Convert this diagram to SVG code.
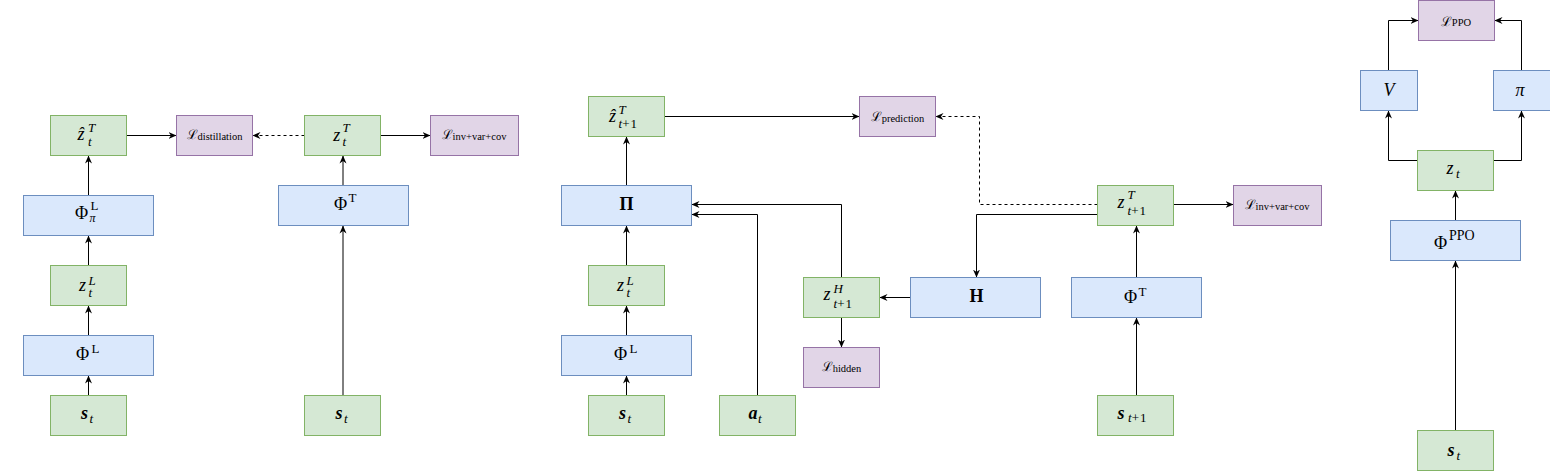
<svg xmlns="http://www.w3.org/2000/svg" width="1550" height="471" viewBox="0 0 1550 471">
<style>
.g{fill:#d5e8d4;stroke:#82b366;stroke-width:1}
.b{fill:#dae8fc;stroke:#6c8ebf;stroke-width:1}
.p{fill:#e1d5e7;stroke:#9673a6;stroke-width:1}
.c path{fill:none;stroke:#000;stroke-width:1;marker-end:url(#a)}
.c path.d{stroke-dasharray:3 3}
text{font-family:"Liberation Serif","DejaVu Serif",serif;fill:#000;font-size:18px}
.i{font-style:italic}
.bi{font-style:italic;font-weight:bold}
.bf{font-weight:bold}
.s{font-size:13px}
.ls{font-family:"DejaVu Serif",serif;font-size:13px}
.sub{font-size:10.5px}
</style>
<defs>
<marker id="a" viewBox="0 0 8 8" refX="8" refY="4" markerWidth="8" markerHeight="8" markerUnits="userSpaceOnUse" orient="auto"><path d="M0,0.5 L8,4 L0,7.5 L2.5,4 z" fill="#000"/></marker>
</defs>
<g class="c" id="connectors">
<path d="M88.5,395.5 V375.5"/>
<path d="M88.5,335.5 V305.5"/>
<path d="M88.5,265.5 V235.5"/>
<path d="M88.5,195.5 V155.5"/>
<path d="M126.5,135.5 H176.5"/>
<path class="d" d="M304.5,135.5 H252.5"/>
<path d="M380.5,135.5 H430.5"/>
<path d="M343,185.5 V155.5"/>
<path d="M343,395.5 V225.5"/>
<path d="M626.5,395.5 V375.5"/>
<path d="M626.5,335.5 V305.5"/>
<path d="M626.5,265.5 V225.5"/>
<path d="M626.5,185.5 V136.5"/>
<path d="M664.5,116.5 H859.5"/>
<path d="M757.5,395.5 V214.5 H691.5"/>
<path d="M841.5,277.5 V204.5 H691.5"/>
<path d="M841.5,317.5 V347.5"/>
<path d="M910.5,297.5 H879.5"/>
<path class="d" d="M1097.5,204.5 H979.5 V116.5 H935.5"/>
<path d="M1097.5,214.5 H976.5 V277.5"/>
<path d="M1136.5,277.5 V225.5"/>
<path d="M1136.5,395.5 V317.5"/>
<path d="M1173.5,204.5 H1233.5"/>
<path d="M1455.5,430.5 V260.5"/>
<path d="M1455.5,220.5 V190.5"/>
<path d="M1417.5,160.5 H1388.5 V110.5"/>
<path d="M1493.5,160.5 H1521.5 V110.5"/>
<path d="M1388.5,70.5 V20.5 H1418.5"/>
<path d="M1521.5,70.5 V20.5 H1494.5"/>
</g>
<g id="n_zhat_t_T"><rect class="g" x="50.5" y="115.5" width="76" height="40"/><text><tspan class="i" x="77.5" y="140">ẑ</tspan><tspan class="i s" x="88" y="132">T</tspan><tspan class="i s" x="88" y="146">t</tspan></text></g>
<g id="n_L_dist"><rect class="p" x="176.5" y="115.5" width="76" height="40"/><text x="214.5" y="139" text-anchor="middle"><tspan class="ls">ℒ</tspan><tspan class="sub" dy="1">distillation</tspan></text></g>
<g id="n_Phi_pi_L"><rect class="b" x="23.5" y="195.5" width="130" height="40"/><text><tspan x="75" y="219">Φ</tspan><tspan class="s" x="90.5" y="209.5">L</tspan><tspan class="i" font-size="12" x="89.5" y="221.5">π</tspan></text></g>
<g id="n_z_t_L"><rect class="g" x="50.5" y="265.5" width="76" height="40"/><text><tspan class="i" x="79" y="291">z</tspan><tspan class="i s" x="88.5" y="284.5">L</tspan><tspan class="i s" x="88.5" y="297">t</tspan></text></g>
<g id="n_Phi_L"><rect class="b" x="23.5" y="335.5" width="130" height="40"/><text><tspan x="76" y="360">Φ</tspan><tspan class="s" x="91.5" y="353">L</tspan></text></g>
<g id="n_s_t_1"><rect class="g" x="50.5" y="395.5" width="76" height="40"/><text><tspan class="bi" x="81" y="419">s</tspan><tspan class="i s" x="89.5" y="423">t</tspan></text></g>
<g id="n_z_t_T"><rect class="g" x="304.5" y="115.5" width="76" height="40"/><text><tspan class="i" x="333.3" y="140.5">z</tspan><tspan class="i s" x="342.5" y="132">T</tspan><tspan class="i s" x="342.5" y="146">t</tspan></text></g>
<g id="n_L_inv_1"><rect class="p" x="430.5" y="115.5" width="88" height="40"/><text x="474" y="139" text-anchor="middle"><tspan class="ls">ℒ</tspan><tspan class="sub" dy="1">inv+var+cov</tspan></text></g>
<g id="n_Phi_T_1"><rect class="b" x="278.5" y="185.5" width="130" height="40"/><text><tspan x="334" y="209.5">Φ</tspan><tspan class="s" x="348.5" y="202">T</tspan></text></g>
<g id="n_s_t_2"><rect class="g" x="304.5" y="395.5" width="76" height="40"/><text><tspan class="bi" x="335.5" y="419">s</tspan><tspan class="i s" x="344" y="423">t</tspan></text></g>
<g id="n_zhat_t1_T"><rect class="g" x="588.5" y="96.5" width="76" height="40"/><text><tspan class="i" x="609" y="121.5">ẑ</tspan><tspan class="i s" x="618.5" y="113.5">T</tspan><tspan class="i s" x="618.5" y="128">t</tspan><tspan class="s" letter-spacing="1">+1</tspan></text></g>
<g id="n_L_pred"><rect class="p" x="859.5" y="96.5" width="76" height="40"/><text x="897.5" y="121" text-anchor="middle"><tspan class="ls">ℒ</tspan><tspan class="sub" dy="1">prediction</tspan></text></g>
<g id="n_Pi"><rect class="b" x="561.5" y="185.5" width="130" height="40"/><text class="bf" x="626.5" y="210" text-anchor="middle" font-size="19">Π</text></g>
<g id="n_z_t_L_2"><rect class="g" x="588.5" y="265.5" width="76" height="40"/><text><tspan class="i" x="617" y="291">z</tspan><tspan class="i s" x="626.5" y="284.5">L</tspan><tspan class="i s" x="626.5" y="297">t</tspan></text></g>
<g id="n_Phi_L_2"><rect class="b" x="561.5" y="335.5" width="130" height="40"/><text><tspan x="614" y="360">Φ</tspan><tspan class="s" x="629.5" y="353">L</tspan></text></g>
<g id="n_s_t_3"><rect class="g" x="588.5" y="395.5" width="76" height="40"/><text><tspan class="bi" x="619" y="419">s</tspan><tspan class="i s" x="627.5" y="423">t</tspan></text></g>
<g id="n_a_t"><rect class="g" x="719.5" y="395.5" width="76" height="40"/><text><tspan class="bi" x="748.5" y="419">a</tspan><tspan class="i s" x="758" y="423">t</tspan></text></g>
<g id="n_z_t1_H"><rect class="g" x="803.5" y="277.5" width="76" height="40"/><text><tspan class="i" x="823.5" y="300">z</tspan><tspan class="i s" x="833.5" y="293">H</tspan><tspan class="i s" x="833.5" y="308">t</tspan><tspan class="s" letter-spacing="1">+1</tspan></text></g>
<g id="n_L_hidden"><rect class="p" x="803.5" y="347.5" width="76" height="40"/><text x="841.5" y="370.5" text-anchor="middle"><tspan class="ls">ℒ</tspan><tspan class="sub" dy="1">hidden</tspan></text></g>
<g id="n_H"><rect class="b" x="910.5" y="277.5" width="130" height="40"/><text class="bf" x="976.5" y="302" text-anchor="middle" font-size="19">H</text></g>
<g id="n_z_t1_T"><rect class="g" x="1097.5" y="185.5" width="76" height="40"/><text><tspan class="i" x="1117.5" y="207.5">z</tspan><tspan class="i s" x="1127.5" y="199">T</tspan><tspan class="i s" x="1127.5" y="215">t</tspan><tspan class="s" letter-spacing="1">+1</tspan></text></g>
<g id="n_L_inv_2"><rect class="p" x="1233.5" y="185.5" width="88" height="40"/><text x="1277" y="208.5" text-anchor="middle"><tspan class="ls">ℒ</tspan><tspan class="sub" dy="1">inv+var+cov</tspan></text></g>
<g id="n_Phi_T_2"><rect class="b" x="1071.5" y="277.5" width="130" height="40"/><text><tspan x="1124" y="302.5">Φ</tspan><tspan class="s" x="1138.5" y="295.5">T</tspan></text></g>
<g id="n_s_t1"><rect class="g" x="1097.5" y="395.5" width="76" height="40"/><text><tspan class="bi" x="1117.5" y="419">s</tspan><tspan class="i s" x="1128" y="422">t</tspan><tspan class="s" letter-spacing="1">+1</tspan></text></g>
<g id="n_L_PPO"><rect class="p" x="1418.5" y="0.5" width="76" height="40"/><text x="1456" y="25.5" text-anchor="middle"><tspan class="ls">ℒ</tspan><tspan class="sub" dy="0.5">PPO</tspan></text></g>
<g id="n_V"><rect class="b" x="1360.5" y="70.5" width="57" height="40"/><text class="i" x="1389" y="95.5" text-anchor="middle" font-size="22">V</text></g>
<g id="n_pi"><rect class="b" x="1493.5" y="70.5" width="57" height="40"/><text class="i" x="1520" y="95.5" text-anchor="middle" font-size="18">π</text></g>
<g id="n_z_t"><rect class="g" x="1417.5" y="150.5" width="76" height="40"/><text><tspan class="i" x="1446.5" y="173.5">z</tspan><tspan class="i s" x="1456" y="178">t</tspan></text></g>
<g id="n_Phi_PPO"><rect class="b" x="1390.5" y="220.5" width="130" height="40"/><text><tspan x="1434" y="249">Φ</tspan><tspan font-size="14" x="1449" y="240">PPO</tspan></text></g>
<g id="n_s_t_4"><rect class="g" x="1417.5" y="430.5" width="76" height="40"/><text><tspan class="bi" x="1447.5" y="456">s</tspan><tspan class="i s" x="1456.5" y="460">t</tspan></text></g>
</svg>
